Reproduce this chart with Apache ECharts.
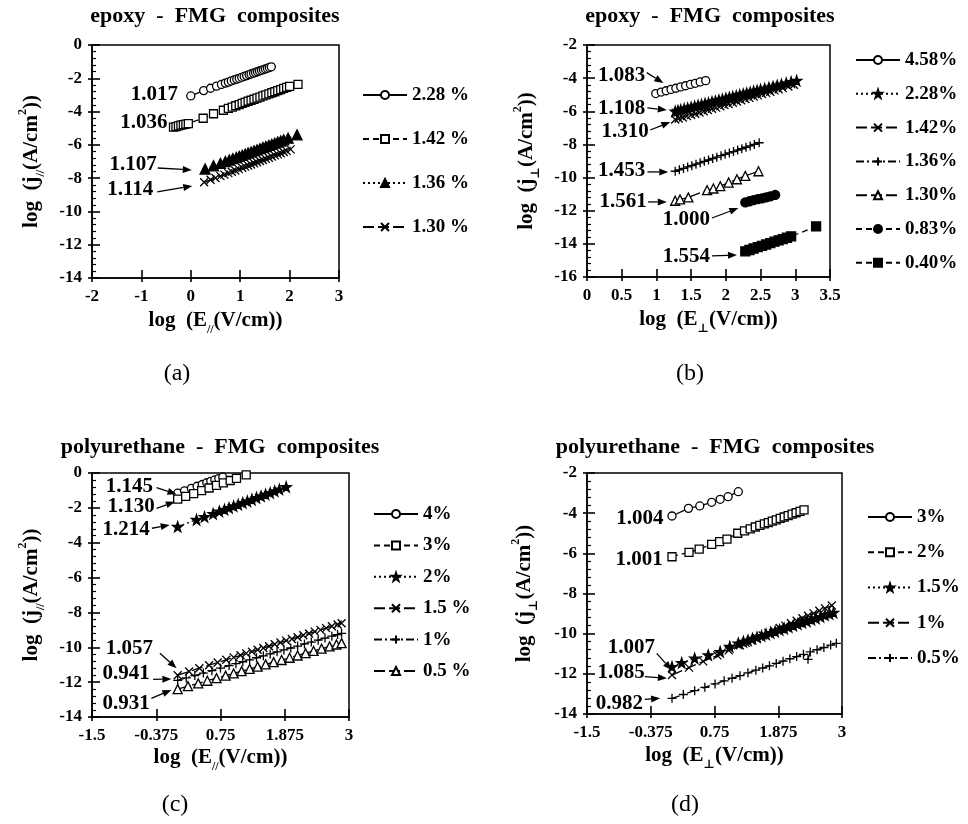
<!DOCTYPE html>
<html><head><meta charset="utf-8">
<script src="https://cdn.jsdelivr.net/npm/echarts@6/dist/echarts.min.js"></script>
<style>html,body{margin:0;padding:0;background:#fff}#c{width:968px;height:824px}</style>
</head><body><div id="c"></div><script>
// ---------- Panel (a): epoxy, parallel ----------
const a228x = [0, 0.26, 0.4, 0.52, 0.62, 0.7, 0.76, 0.82, 0.88, 0.93, 0.98, 1.03, 1.08, 1.13, 1.18, 1.22, 1.27, 1.31, 1.35, 1.39, 1.43, 1.47, 1.51, 1.55, 1.59, 1.63];
const a228y = [-3.06, -2.74, -2.6, -2.47, -2.37, -2.29, -2.23, -2.16, -2.1, -2.05, -2.0, -1.94, -1.89, -1.84, -1.78, -1.74, -1.69, -1.65, -1.6, -1.56, -1.52, -1.48, -1.44, -1.4, -1.35, -1.31];
const a142x = [-0.35, -0.3, -0.25, -0.2, -0.15, -0.1, -0.05, 0.25, 0.46, 0.66, 0.76, 0.84, 0.91, 0.98, 1.04, 1.1, 1.16, 1.22, 1.28, 1.34, 1.4, 1.46, 1.52, 1.58, 1.64, 1.7, 1.76, 1.82, 1.88, 1.94, 2.0, 2.17];
const a142y = [-4.93, -4.9, -4.86, -4.82, -4.79, -4.75, -4.72, -4.4, -4.13, -3.92, -3.81, -3.73, -3.65, -3.58, -3.51, -3.45, -3.38, -3.32, -3.26, -3.19, -3.13, -3.06, -3.0, -2.94, -2.87, -2.81, -2.74, -2.68, -2.61, -2.55, -2.49, -2.36];
const a136x = [0.29, 0.46, 0.6, 0.7, 0.78, 0.85, 0.92, 0.98, 1.04, 1.1, 1.16, 1.22, 1.28, 1.34, 1.4, 1.46, 1.52, 1.58, 1.64, 1.7, 1.76, 1.82, 1.88, 1.97, 2.15];
const a136y = [-7.45, -7.26, -7.11, -7.0, -6.91, -6.83, -6.76, -6.69, -6.63, -6.56, -6.49, -6.43, -6.36, -6.3, -6.23, -6.16, -6.1, -6.03, -5.97, -5.9, -5.83, -5.77, -5.7, -5.6, -5.4];
const a130x = [0.27, 0.4, 0.5, 0.6, 0.68, 0.76, 0.83, 0.9, 0.97, 1.04, 1.1, 1.16, 1.22, 1.28, 1.34, 1.4, 1.46, 1.52, 1.58, 1.64, 1.7, 1.76, 1.82, 1.88, 1.94, 2.02];
const a130y = [-8.25, -8.1, -7.99, -7.88, -7.79, -7.7, -7.62, -7.54, -7.46, -7.38, -7.31, -7.24, -7.18, -7.11, -7.04, -6.97, -6.91, -6.84, -6.77, -6.7, -6.63, -6.57, -6.5, -6.43, -6.36, -6.27];

// ---------- Panel (b): epoxy, perpendicular ----------
const b458x = [0.99, 1.07, 1.14, 1.21, 1.28, 1.35, 1.42, 1.49, 1.56, 1.63, 1.71];
const b458y = [-4.93, -4.84, -4.76, -4.68, -4.61, -4.53, -4.46, -4.38, -4.31, -4.23, -4.15];
const b228x = [1.27, 1.31, 1.35, 1.4, 1.45, 1.5, 1.55, 1.6, 1.65, 1.7, 1.75, 1.8, 1.85, 1.9, 1.95, 2.0, 2.05, 2.1, 2.15, 2.2, 2.25, 2.3, 2.35, 2.4, 2.45, 2.5, 2.56, 2.62, 2.68, 2.74, 2.8, 2.87, 2.94, 3.02];
const b228y = [-6.0, -5.96, -5.92, -5.86, -5.81, -5.76, -5.7, -5.65, -5.6, -5.54, -5.49, -5.44, -5.39, -5.33, -5.28, -5.23, -5.17, -5.12, -5.07, -5.01, -4.96, -4.91, -4.86, -4.8, -4.75, -4.7, -4.63, -4.57, -4.51, -4.44, -4.38, -4.3, -4.23, -4.15];
const b142x = [1.27, 1.32, 1.38, 1.44, 1.5, 1.56, 1.62, 1.68, 1.74, 1.8, 1.86, 1.92, 1.98, 2.04, 2.1, 2.16, 2.22, 2.28, 2.34, 2.4, 2.46, 2.52, 2.58, 2.64, 2.7, 2.76, 2.82, 2.9, 2.98];
const b142y = [-6.5, -6.44, -6.37, -6.29, -6.22, -6.15, -6.07, -6.0, -5.92, -5.85, -5.78, -5.7, -5.63, -5.56, -5.48, -5.41, -5.33, -5.26, -5.19, -5.11, -5.04, -4.96, -4.89, -4.82, -4.74, -4.67, -4.6, -4.5, -4.4];
const b136x = [1.27, 1.33, 1.39, 1.45, 1.51, 1.57, 1.63, 1.69, 1.75, 1.81, 1.87, 1.93, 1.99, 2.05, 2.11, 2.17, 2.23, 2.29, 2.35, 2.41, 2.48];
const b136y = [-9.62, -9.53, -9.45, -9.36, -9.28, -9.19, -9.11, -9.02, -8.94, -8.85, -8.77, -8.68, -8.6, -8.51, -8.43, -8.34, -8.26, -8.17, -8.09, -8.0, -7.9];
const b130x = [1.27, 1.34, 1.46, 1.73, 1.82, 1.92, 2.04, 2.16, 2.28, 2.47];
const b130y = [-11.4, -11.32, -11.2, -10.76, -10.66, -10.52, -10.3, -10.1, -9.9, -9.62];
const b083x = [2.28, 2.34, 2.4, 2.46, 2.52, 2.58, 2.64, 2.71];
const b083y = [-11.5, -11.43, -11.36, -11.3, -11.25, -11.19, -11.13, -11.05];
const b040x = [2.28, 2.34, 2.4, 2.46, 2.52, 2.58, 2.64, 2.7, 2.76, 2.82, 2.88, 2.94, 3.3];
const b040y = [-14.45, -14.37, -14.28, -14.2, -14.12, -14.04, -13.95, -13.87, -13.79, -13.71, -13.63, -13.55, -12.95];

// ---------- Panel (c): polyurethane, parallel ----------
const c4x = [0, 0.12, 0.24, 0.34, 0.43, 0.51, 0.58, 0.65, 0.72, 0.79];
const c4y = [-1.16, -1.02, -0.88, -0.76, -0.66, -0.56, -0.48, -0.4, -0.32, -0.24];
const c3x = [0, 0.14, 0.28, 0.42, 0.55, 0.68, 0.8, 0.92, 1.03, 1.2];
const c3y = [-1.5, -1.34, -1.18, -1.01, -0.86, -0.71, -0.57, -0.43, -0.31, -0.11];
const c2x = [0, 0.33, 0.47, 0.62, 0.73, 0.82, 0.9, 0.98, 1.06, 1.14, 1.22, 1.3, 1.38, 1.46, 1.54, 1.62, 1.7, 1.78, 1.9];
const c2y = [-3.08, -2.68, -2.52, -2.34, -2.2, -2.1, -2.0, -1.9, -1.81, -1.71, -1.62, -1.52, -1.42, -1.33, -1.23, -1.14, -1.04, -0.94, -0.8];
const c15x = [0, 0.2, 0.38, 0.55, 0.7, 0.85, 0.98, 1.1, 1.2, 1.3, 1.4, 1.5, 1.6, 1.7, 1.8, 1.9, 2.0, 2.1, 2.2, 2.3, 2.4, 2.5, 2.6, 2.7, 2.8, 2.87];
const c15y = [-11.6, -11.39, -11.2, -11.03, -10.87, -10.72, -10.58, -10.46, -10.35, -10.25, -10.14, -10.04, -9.94, -9.83, -9.73, -9.62, -9.52, -9.42, -9.31, -9.21, -9.1, -9.0, -8.9, -8.79, -8.69, -8.62];
const c1x = [0, 0.15, 0.3, 0.45, 0.6, 0.75, 0.9, 1.02, 1.14, 1.26, 1.38, 1.5, 1.62, 1.74, 1.86, 1.98, 2.1, 2.22, 2.34, 2.46, 2.58, 2.7, 2.8, 2.87];
const c1y = [-11.9, -11.76, -11.62, -11.48, -11.34, -11.2, -11.05, -10.94, -10.83, -10.72, -10.6, -10.49, -10.38, -10.26, -10.15, -10.04, -9.93, -9.81, -9.7, -9.59, -9.47, -9.36, -9.27, -9.2];
const c05x = [0, 0.18, 0.36, 0.52, 0.68, 0.84, 0.98, 1.12, 1.26, 1.4, 1.54, 1.68, 1.82, 1.96, 2.1, 2.24, 2.38, 2.52, 2.66, 2.78, 2.87];
const c05y = [-12.4, -12.23, -12.07, -11.92, -11.77, -11.63, -11.5, -11.37, -11.24, -11.11, -10.98, -10.85, -10.73, -10.6, -10.47, -10.34, -10.21, -10.08, -9.95, -9.84, -9.76];

// ---------- Panel (d): polyurethane, perpendicular ----------
const d3x = [0, 0.29, 0.49, 0.7, 0.85, 0.99, 1.17];
const d3y = [-4.14, -3.76, -3.64, -3.46, -3.31, -3.18, -2.93];
const d2x = [0, 0.3, 0.48, 0.7, 0.84, 0.97, 1.16, 1.28, 1.38, 1.47, 1.55, 1.63, 1.7, 1.77, 1.84, 1.91, 1.98, 2.05, 2.12, 2.19, 2.26, 2.33];
const d2y = [-6.17, -5.95, -5.79, -5.55, -5.42, -5.29, -5.0, -4.88, -4.78, -4.69, -4.61, -4.53, -4.47, -4.4, -4.33, -4.26, -4.19, -4.12, -4.05, -3.98, -3.91, -3.84];
const d15x = [0, 0.17, 0.4, 0.64, 0.85, 1.02, 1.17, 1.26, 1.34, 1.42, 1.5, 1.58, 1.66, 1.74, 1.82, 1.9, 1.98, 2.06, 2.14, 2.22, 2.3, 2.38, 2.46, 2.54, 2.62, 2.7, 2.78, 2.85];
const d15y = [-11.65, -11.45, -11.23, -11.07, -10.9, -10.65, -10.48, -10.4, -10.33, -10.25, -10.18, -10.11, -10.03, -9.96, -9.89, -9.81, -9.74, -9.67, -9.6, -9.52, -9.45, -9.38, -9.3, -9.23, -9.16, -9.08, -9.01, -8.95];
const d1x = [0, 0.3, 0.55, 0.8, 1.0, 1.2, 1.3, 1.4, 1.5, 1.6, 1.7, 1.8, 1.9, 2.0, 2.1, 2.2, 2.3, 2.4, 2.5, 2.6, 2.7, 2.82];
const d1y = [-12.06, -11.69, -11.38, -11.08, -10.83, -10.58, -10.46, -10.34, -10.22, -10.09, -9.97, -9.85, -9.72, -9.6, -9.48, -9.36, -9.23, -9.11, -8.99, -8.86, -8.74, -8.6];
const d05x = [0, 0.2, 0.4, 0.58, 0.76, 0.92, 1.06, 1.2, 1.34, 1.48, 1.6, 1.72, 1.84, 1.96, 2.08, 2.2, 2.32, 2.4, 2.44, 2.56, 2.68, 2.8, 2.9];
const d05y = [-13.22, -13.03, -12.84, -12.67, -12.5, -12.35, -12.22, -12.09, -11.95, -11.82, -11.71, -11.6, -11.48, -11.37, -11.25, -11.14, -11.03, -11.28, -10.91, -10.8, -10.69, -10.57, -10.48];

// ---------- Legend names ----------
const namesA = ['2.28 %', '1.42 %', '1.36 %', '1.30 %'];
const namesB = ['4.58%', '2.28%', '1.42%', '1.36%', '1.30%', '0.83%', '0.40%'];
const namesC = ['4%', '3%', '2%', '1.5 %', '1%', '0.5 %'];
const namesD = ['3%', '2%', '1.5%', '1%', '0.5%'];

// ---------- Styles ----------
const FF = '"Liberation Serif","Times New Roman","DejaVu Serif",serif';
const SYM = {
  circleOpen: {symbol: 'circle', size: 8, fill: '#fff'},
  circleFill: {symbol: 'circle', size: 9, fill: '#000'},
  rectOpen: {symbol: 'rect', size: 8, fill: '#fff'},
  rectFill: {symbol: 'rect', size: 9, fill: '#000'},
  triFill: {symbol: 'triangle', size: 10, fill: '#000'},
  triOpen: {symbol: 'triangle', size: 9, fill: '#fff'},
  star: {symbol: 'path://M5,0L6.2,3.6L10,3.6L7,5.9L8.1,9.5L5,7.3L1.9,9.5L3,5.9L0,3.6L3.8,3.6Z', size: 10, fill: '#000'},
  cross: {symbol: 'path://M0,0L10,10M10,0L0,10', size: 8, fill: '#000'},
  plus: {symbol: 'path://M5,0L5,10M0,5L10,5', size: 9, fill: '#000'}
};
const DASH = {solid: 'solid', dashed: [6, 4], dotted: [2, 3], longdash: [11, 4], dashdot: [8, 3, 2, 3]};

const SERIES = [
  {p: 0, n: namesA[0], x: a228x, y: a228y, s: 'circleOpen', d: 'solid'},
  {p: 0, n: namesA[1], x: a142x, y: a142y, s: 'rectOpen', d: 'dashed'},
  {p: 0, n: namesA[2], x: a136x, y: a136y, s: 'triFill', d: 'dotted'},
  {p: 0, n: namesA[3], x: a130x, y: a130y, s: 'cross', d: 'longdash'},
  {p: 1, n: namesB[0], x: b458x, y: b458y, s: 'circleOpen', d: 'solid'},
  {p: 1, n: namesB[1], x: b228x, y: b228y, s: 'star', d: 'dotted'},
  {p: 1, n: namesB[2], x: b142x, y: b142y, s: 'cross', d: 'longdash'},
  {p: 1, n: namesB[3], x: b136x, y: b136y, s: 'plus', d: 'dashdot'},
  {p: 1, n: namesB[4], x: b130x, y: b130y, s: 'triOpen', d: 'longdash'},
  {p: 1, n: namesB[5], x: b083x, y: b083y, s: 'circleFill', d: 'dashed'},
  {p: 1, n: namesB[6], x: b040x, y: b040y, s: 'rectFill', d: 'dashed'},
  {p: 2, n: namesC[0], x: c4x, y: c4y, s: 'circleOpen', d: 'solid'},
  {p: 2, n: namesC[1], x: c3x, y: c3y, s: 'rectOpen', d: 'dashed'},
  {p: 2, n: namesC[2], x: c2x, y: c2y, s: 'star', d: 'dotted'},
  {p: 2, n: namesC[3], x: c15x, y: c15y, s: 'cross', d: 'longdash'},
  {p: 2, n: namesC[4], x: c1x, y: c1y, s: 'plus', d: 'dashdot'},
  {p: 2, n: namesC[5], x: c05x, y: c05y, s: 'triOpen', d: 'longdash'},
  {p: 3, n: namesD[0], x: d3x, y: d3y, s: 'circleOpen', d: 'solid'},
  {p: 3, n: namesD[1], x: d2x, y: d2y, s: 'rectOpen', d: 'dashed'},
  {p: 3, n: namesD[2], x: d15x, y: d15y, s: 'star', d: 'dotted'},
  {p: 3, n: namesD[3], x: d1x, y: d1y, s: 'cross', d: 'longdash'},
  {p: 3, n: namesD[4], x: d05x, y: d05y, s: 'plus', d: 'dashdot'}
];

const rich = {
  n: {fontFamily: FF, fontWeight: 'bold', fontSize: 21, lineHeight: 30, color: '#000'},
  s: {fontFamily: FF, fontWeight: 'bold', fontSize: 12, lineHeight: 16, verticalAlign: 'bottom', color: '#000'},
  p: {fontFamily: FF, fontWeight: 'bold', fontSize: 12, lineHeight: 16, verticalAlign: 'top', color: '#000'}
};
const xNamePar = '{n|log  (E}{s|//}{n|(V/cm))}';
const xNamePerp = '{n|log  (E}{s|⊥}{n|(V/cm))}';
const yNamePar = '{n|log  (j}{s|//}{n|(A/cm}{p|2}{n|))}';
const yNamePerp = '{n|log  (j}{s|⊥}{n|(A/cm}{p|2}{n|))}';

const PANELS = [
  {grid: {left: 92, top: 45, width: 247, height: 233}, x: [-2, 3, 1], y: [-14, 0, 2], xn: xNamePar, yn: yNamePar, xg: 28, yg: 45,
   lg: {left: 362, top: 85, gap: 24}, names: namesA, title: 'epoxy  -  FMG  composites', tc: [215, 16], lab: '(a)', lc: [177, 374]},
  {grid: {left: 587, top: 45, width: 243, height: 232}, x: [0, 3.5, 0.5], y: [-16, -2, 2], xn: xNamePerp, yn: yNamePerp, xg: 28, yg: 45,
   lg: {left: 855, top: 50, gap: 13.8}, names: namesB, title: 'epoxy  -  FMG  composites', tc: [710, 16], lab: '(b)', lc: [690, 374]},
  {grid: {left: 92, top: 473, width: 257, height: 244}, x: [-1.5, 3, 1.125], y: [-14, 0, 2], xn: xNamePar, yn: yNamePar, xg: 26, yg: 45,
   lg: {left: 373, top: 504, gap: 11.4}, names: namesC, title: 'polyurethane  -  FMG  composites', tc: [220, 447], lab: '(c)', lc: [175, 805]},
  {grid: {left: 587, top: 473, width: 255, height: 241}, x: [-1.5, 3, 1.125], y: [-14, -2, 2], xn: xNamePerp, yn: yNamePerp, xg: 27, yg: 47,
   lg: {left: 867, top: 507, gap: 15.25}, names: namesD, title: 'polyurethane  -  FMG  composites', tc: [715, 447], lab: '(d)', lc: [685, 805]}
];

// annotations: [panel, text, textX, textY, arrowFromX, arrowFromY, arrowToX, arrowToY] (data coordinates)
const ANN = [
  [0, '1.017', -0.26, -3.0], [0, '1.036', -0.47, -4.69],
  [0, '1.107', -0.69, -7.17, -0.67, -7.39, 0.02, -7.51],
  [0, '1.114', -0.76, -8.71, -0.68, -8.83, 0.03, -8.47],
  [1, '1.083', 0.84, -3.87, 0.86, -3.67, 1.10, -4.29],
  [1, '1.108', 0.84, -5.82, 0.87, -5.80, 1.15, -5.92],
  [1, '1.310', 0.89, -7.23, 0.91, -7.13, 1.2, -6.65],
  [1, '1.453', 0.84, -9.59, 0.87, -9.66, 1.17, -9.66],
  [1, '1.561', 0.86, -11.46, 0.88, -11.47, 1.15, -11.47],
  [1, '1.000', 1.77, -12.56, 1.80, -12.44, 2.18, -11.84],
  [1, '1.554', 1.77, -14.77, 1.80, -14.73, 2.16, -14.67],
  [2, '1.145', -0.43, -0.79, -0.37, -0.84, -0.02, -1.22],
  [2, '1.130', -0.4, -1.93, -0.37, -2.03, -0.05, -1.65],
  [2, '1.214', -0.49, -3.27, -0.45, -3.17, -0.14, -2.98],
  [2, '1.057', -0.43, -10.06, -0.31, -10.34, -0.02, -11.2],
  [2, '0.941', -0.49, -11.49, -0.43, -11.84, -0.11, -11.82],
  [2, '0.931', -0.49, -13.21, -0.46, -12.93, -0.11, -12.45],
  [3, '1.004', -0.15, -4.26], [3, '1.001', -0.165, -6.3],
  [3, '1.007', -0.30, -10.68, -0.27, -10.98, -0.006, -11.81],
  [3, '1.085', -0.48, -11.95, -0.48, -12.14, -0.09, -12.22],
  [3, '0.982', -0.51, -13.47, -0.48, -13.27, -0.21, -13.22]
];

const key = (p, n) => 'abcd'[p] + '|' + n;
const lblStyle = {fontFamily: FF, fontWeight: 'bold', fontSize: 17, color: '#000'};
const TK = {color: '#000', width: 1.6};
const grids = [], xAxes = [], yAxes = [], legends = [];
PANELS.forEach((P, i) => {
  grids.push(Object.assign({show: true, borderColor: '#000', borderWidth: 1.5, backgroundColor: 'rgba(0,0,0,0)', containLabel: false, outerBoundsMode: 'none'}, P.grid));
  const xb = {gridIndex: i, type: 'value', position: 'bottom', min: P.x[0], max: P.x[1], interval: P.x[2], splitLine: {show: false}};
  const yb = {gridIndex: i, type: 'value', position: 'left', min: P.y[0], max: P.y[1], interval: P.y[2], splitLine: {show: false}};
  // primary x: line, labels, short outer ticks
  xAxes.push(Object.assign({}, xb, {
    name: P.xn, nameLocation: 'middle', nameGap: P.xg, nameMoveOverlap: false, nameTextStyle: {rich},
    axisLine: {show: true, onZero: false, lineStyle: {color: '#000', width: 1.5}},
    axisTick: {show: true, inside: false, length: 4, lineStyle: TK},
    axisLabel: Object.assign({margin: 10, showMinLabel: true, showMaxLabel: true}, lblStyle)}));
  // inner x ticks: axis shifted into the plot, ticks pointing back to the frame
  xAxes.push(Object.assign({}, xb, {offset: -8,
    axisLine: {show: false, onZero: false}, axisLabel: {show: false},
    axisTick: {show: true, inside: false, length: 8, lineStyle: TK}}));
  yAxes.push(Object.assign({}, yb, {
    name: P.yn, nameLocation: 'middle', nameGap: P.yg, nameRotate: 90, nameMoveOverlap: false, nameTextStyle: {rich},
    axisLine: {show: true, onZero: false, lineStyle: {color: '#000', width: 1.5}},
    axisTick: {show: true, inside: false, length: 4, lineStyle: TK},
    axisLabel: Object.assign({margin: 10, showMinLabel: true, showMaxLabel: true}, lblStyle)}));
  yAxes.push(Object.assign({}, yb, {offset: -8,
    axisLine: {show: false, onZero: false}, axisLabel: {show: false},
    axisTick: {show: true, inside: false, length: 8, lineStyle: TK}}));
  yAxes.push(Object.assign({}, yb, {offset: -4,
    axisLine: {show: false, onZero: false}, axisLabel: {show: false},
    axisTick: {show: false, inside: false, length: 4},
    minorTick: {show: true, splitNumber: 5, length: 4, lineStyle: {color: '#000', width: 1.2}}}));
  legends.push({show: true, orient: 'vertical', left: P.lg.left, top: P.lg.top, itemGap: P.lg.gap,
    itemWidth: 44, itemHeight: 10, padding: 0, selectedMode: false,
    data: P.names.map(n => key(i, n)),
    formatter: name => name.split('|')[1],
    textStyle: {fontFamily: FF, fontWeight: 'bold', fontSize: 19, color: '#000', lineHeight: 20}});
});

const series = SERIES.map(S => {
  const sy = SYM[S.s];
  return {
    type: 'line', name: key(S.p, S.n), xAxisIndex: S.p * 2, yAxisIndex: S.p * 3,
    data: S.x.map((v, k) => [v, S.y[k]]),
    symbol: sy.symbol, symbolSize: sy.size, showSymbol: true, showAllSymbol: true,
    itemStyle: {color: sy.fill, borderColor: '#000', borderWidth: 1.3, opacity: 1},
    lineStyle: {color: '#000', width: 1.3, type: DASH[S.d]},
    emphasis: {disabled: true}, silent: true, animation: false, z: 3
  };
});

const chart = echarts.init(document.getElementById('c'), null, {renderer: 'canvas'});
chart.setOption({
  backgroundColor: '#fff', animation: false,
  grid: grids, xAxis: xAxes, yAxis: yAxes, legend: legends, series
});

// Graphic texts: titles, panel labels, slope annotations with arrows
const firstSeries = [0, 1, 2, 3].map(p => SERIES.findIndex(S => S.p === p));
const toPx = (p, x, y) => chart.convertToPixel({seriesIndex: firstSeries[p]}, [x, y]);
const g = [];
PANELS.forEach(P => {
  g.push({type: 'text', x: P.tc[0], y: P.tc[1], z: 100,
    style: {text: P.title, font: 'bold 22px ' + FF, fill: '#000', align: 'center', verticalAlign: 'middle', textAlign: 'center', textVerticalAlign: 'middle'}});
  g.push({type: 'text', x: P.lc[0], y: P.lc[1], z: 100,
    style: {text: P.lab, font: '24px ' + FF, fill: '#000', align: 'center', verticalAlign: 'middle', textAlign: 'center', textVerticalAlign: 'middle'}});
});
ANN.forEach(A => {
  const tp = toPx(A[0], A[2], A[3]);
  g.push({type: 'text', x: tp[0], y: tp[1], z: 100,
    style: {text: A[1], font: 'bold 21px ' + FF, fill: '#000', align: 'right', verticalAlign: 'middle', textAlign: 'right', textVerticalAlign: 'middle'}});
  if (A.length > 4) {
    const p0 = toPx(A[0], A[4], A[5]), p1 = toPx(A[0], A[6], A[7]);
    const dx = p1[0] - p0[0], dy = p1[1] - p0[1], L = Math.hypot(dx, dy);
    const ux = dx / L, uy = dy / L, hl = 9, hw = 3.5;
    const bx = p1[0] - ux * hl, by = p1[1] - uy * hl;
    g.push({type: 'line', z: 100, shape: {x1: p0[0], y1: p0[1], x2: bx, y2: by}, style: {stroke: '#000', lineWidth: 1.3}});
    g.push({type: 'polygon', z: 100, shape: {points: [[p1[0], p1[1]], [bx - uy * hw, by + ux * hw], [bx + uy * hw, by - ux * hw]]}, style: {fill: '#000'}});
  }
});
chart.setOption({graphic: g});
</script></body></html>
